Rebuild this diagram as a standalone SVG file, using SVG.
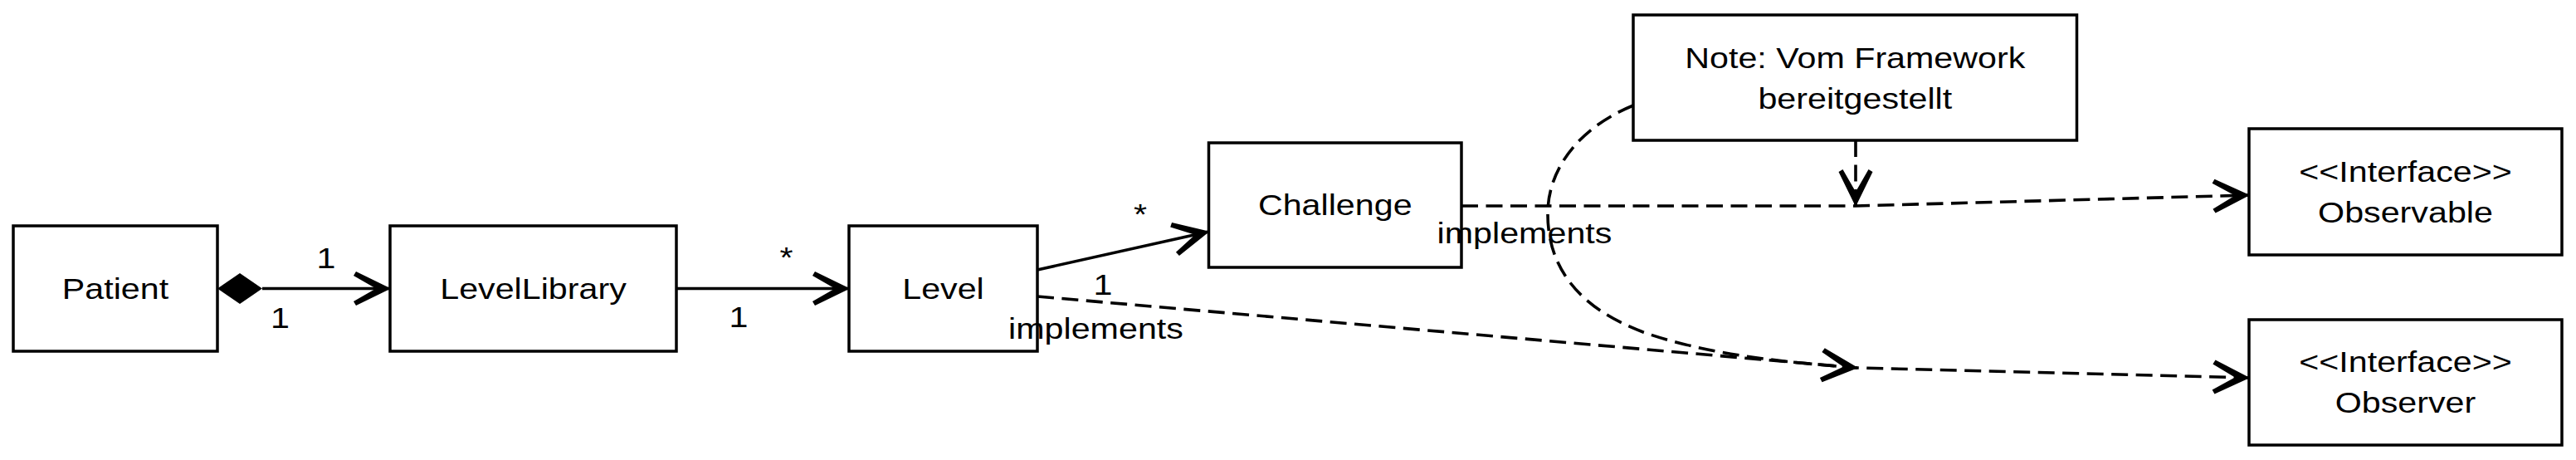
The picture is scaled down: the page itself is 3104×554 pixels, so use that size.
<svg xmlns="http://www.w3.org/2000/svg" width="3104" height="554" viewBox="0 0 3104 554">
<style>
.box{fill:#fff;stroke:#000;stroke-width:3.5}
.t{font-family:"Liberation Sans",Arial,Helvetica,sans-serif;font-size:35px;fill:#000;text-anchor:middle}
.ln{fill:none;stroke:#000;stroke-width:3.5}
.dash{fill:none;stroke:#000;stroke-width:3.6;stroke-dasharray:20 9.5}
</style>
<defs>
<marker id="arr" viewBox="-50 -30 60 60" refX="0" refY="0" markerWidth="60" markerHeight="60" markerUnits="userSpaceOnUse" orient="auto" overflow="visible">
<polygon points="1,0 -41,-20.5 -44,-15.5 -17,0 -44,15.5 -41,20.5" fill="#000"/>
</marker>
</defs>
<rect width="3104" height="554" fill="#fff"/>

<g id="patient">
<rect class="box" x="16" y="272" width="246" height="151"/>
<text class="t" transform="translate(139,360) scale(1.178,1)">Patient</text>
</g>
<g id="levellibrary">
<rect class="box" x="470" y="272" width="345" height="151"/>
<text class="t" transform="translate(642.5,360) scale(1.178,1)">LevelLibrary</text>
</g>
<g id="level">
<rect class="box" x="1023" y="272" width="227" height="151"/>
<text class="t" transform="translate(1136.5,360) scale(1.178,1)">Level</text>
</g>
<g id="challenge">
<rect class="box" x="1456.5" y="172" width="304.5" height="150"/>
<text class="t" transform="translate(1608.75,259) scale(1.178,1)">Challenge</text>
</g>
<g id="note">
<rect class="box" x="1968" y="18" width="534.5" height="151"/>
<text class="t" transform="translate(2235.3,81.5) scale(1.178,1)">Note: Vom Framework</text>
<text class="t" transform="translate(2235.3,130.5) scale(1.178,1)">bereitgestellt</text>
</g>
<g id="observable">
<rect class="box" x="2710" y="155" width="377" height="152"/>
<text class="t" transform="translate(2898.5,218.5) scale(1.178,1)">&lt;&lt;Interface&gt;&gt;</text>
<text class="t" transform="translate(2898.5,268) scale(1.178,1)">Observable</text>
</g>
<g id="observer">
<rect class="box" x="2710" y="385" width="377" height="151"/>
<text class="t" transform="translate(2898.5,448) scale(1.178,1)">&lt;&lt;Interface&gt;&gt;</text>
<text class="t" transform="translate(2898.5,497) scale(1.178,1)">Observer</text>
</g>

<g id="connectors">
<g id="e-patient-levellibrary">
<polygon points="262,347.5 289,329 316,347.5 289,366" fill="#000"/>
<line class="ln" x1="316" y1="347.5" x2="470" y2="347.5" marker-end="url(#arr)"/>
<text class="t" transform="translate(393,323) scale(1.178,1)">1</text>
<text class="t" transform="translate(337.5,395) scale(1.178,1)">1</text>
</g>
<g id="e-levellibrary-level">
<line class="ln" x1="815" y1="347.5" x2="1023" y2="347.5" marker-end="url(#arr)"/>
<text class="t" transform="translate(947.5,322) scale(1.178,1)">*</text>
<text class="t" transform="translate(890,394) scale(1.178,1)">1</text>
</g>
<g id="e-level-challenge">
<line class="ln" x1="1250" y1="325" x2="1456.5" y2="279" marker-end="url(#arr)"/>
<text class="t" transform="translate(1374,270) scale(1.178,1)">*</text>
<text class="t" transform="translate(1329,355) scale(1.178,1)">1</text>
</g>
<g id="e-challenge-observable">
<polyline class="dash" points="1761,248 2236,248 2710,235" marker-end="url(#arr)"/>
<text class="t" transform="translate(1837,293) scale(1.178,1)">implements</text>
</g>
<g id="e-level-observer">
<polyline class="dash" points="1250,357 2238,443 2710,455" marker-end="url(#arr)"/>
<text class="t" transform="translate(1320.5,408) scale(1.178,1)">implements</text>
</g>
<g id="e-note-edge1">
<line class="dash" x1="2236" y1="169" x2="2236" y2="248" marker-end="url(#arr)"/>
</g>
<g id="e-note-edge2">
<path class="dash" d="M1968,127 C1900,155 1866,205 1865,255 C1864,320 1900,370 1980,400 C2060,428 2150,436 2238,443" marker-end="url(#arr)"/>
</g>
</g>
</svg>
